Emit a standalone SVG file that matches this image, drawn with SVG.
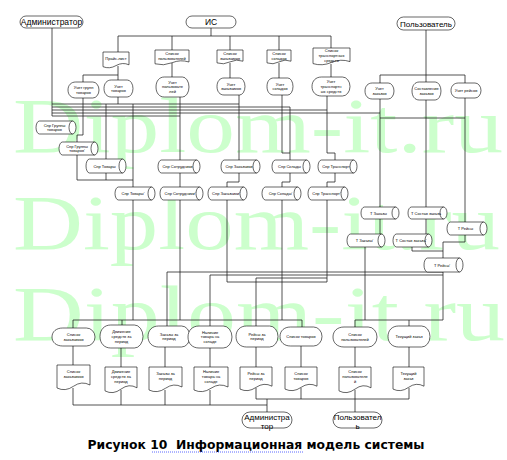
<svg xmlns="http://www.w3.org/2000/svg" width="507" height="460" viewBox="0 0 507 460">
<style>
.s{fill:#fff;stroke:#000;stroke-width:0.6}
.i{fill:none;stroke:#000;stroke-width:0.6}
.c{fill:none;stroke:#1a1a1a;stroke-width:0.75}
.t{font-family:"Liberation Sans",Arial,sans-serif;font-size:4px;text-anchor:middle;fill:#000}
.tt{font-family:"Liberation Sans",Arial,sans-serif;font-size:8.5px;text-anchor:middle;fill:#000}
.w{font-family:"Liberation Serif","Times New Roman",serif;font-size:78px;fill:#ccffcc}
</style>
<rect width="507" height="460" fill="#fff"/>
<g id="watermark">
<text class="w" x="13" y="152" textLength="490" lengthAdjust="spacingAndGlyphs">Diplom-it.ru</text>
<text class="w" x="13" y="249" textLength="487" lengthAdjust="spacingAndGlyphs">Diplom-it.ru</text>
<text class="w" x="13" y="340" textLength="492" lengthAdjust="spacingAndGlyphs">Diplom-it.ru</text>
</g>
<g id="connectors">
<path class="c" d="M52,28V116M211,28V36M118,36H331M118,36V52M172,36V50M230,36V50M279,36V50M331,36V49"/>
<path class="c" d="M118,66V80M118,75H83V82M172,63V77M230,63V78M279,63V78M331,64V77"/>
<path class="c" d="M426,30V82M380,75H465M380,75V83M465,75V83"/>
<path class="c" d="M52,104H239M52,107H290M52,110H327M52,113H380M52,116H180"/>
<path class="c" d="M83,98V135H77V142M77,155V180H133M118,97V104M106,104V159M106,173V180M133,104V320"/>
<path class="c" d="M180,97V320M239,95V160M282,95V153H290V160M290,107V153M327,96V153H335V160"/>
<path class="c" d="M239,173V182H227V187M290,173V182H282V187M335,173V182H327V187"/>
<path class="c" d="M227,200V282H327M327,200V282M282,200V320M256,278H327M256,278V326"/>
<path class="c" d="M73,320H302M73,320V328M122,320V325M302,320V327"/>
<path class="c" d="M380,99V207M426,100V207M465,98V222M380,118H465"/>
<path class="c" d="M380,219V234M426,219V234M465,235V242H443V258M412,247V251H443"/>
<path class="c" d="M365,247V320H443M443,272V320M409,320V326M443,272H167V326M443,275H210V326M355,320H365M355,320V327"/>
<path class="c" d="M73,346V365M121,348V367M165,347V367M210,348V367M256,347V367M301,346V367M355,347V367M409,347V367"/>
<path class="c" d="M73,388V405M121,390V405M165,390V405M210,390V405M73,405H267M267,399V412"/>
<path class="c" d="M256,388V399M301,388V399M409,388V399M256,399H409M355,390V412"/>
</g>
<g id="n-admin"><rect class="s" x="20" y="16" width="63" height="12" rx="6"/><text class="tt" x="51.5" y="25">Администратор</text></g>
<g id="n-is"><rect class="s" x="186" y="16" width="50" height="12" rx="6"/><text class="tt" x="211" y="25">ИС</text></g>
<g id="n-user"><rect class="s" x="397" y="17" width="58" height="13" rx="6.5"/><text class="tt" x="426" y="26.5" style="font-size:8px">Пользователь</text></g>

<g id="d-price"><path class="s" d="M103,52H129V64.8Q122.5,61.9 116,65.6T103,66.7Z"/><text class="t" x="116" y="60.2">Прайс-лист</text></g>
<g id="d-users"><path class="s" d="M155,50H189V62Q180.5,59.3 172,62.75T155,63.8Z"/><text class="t" x="172" y="55.3">Список</text><text class="t" x="172" y="60.1">пользователей</text></g>
<g id="d-cust"><path class="s" d="M217,50H243V61.2Q236.5,58.7 230,61.9T217,62.9Z"/><text class="t" x="230" y="54.9">Список</text><text class="t" x="230" y="59.7">заказчиков</text></g>
<g id="d-stores"><path class="s" d="M267,50H291V61.2Q285,58.7 279,61.9T267,62.9Z"/><text class="t" x="279" y="54.9">Список</text><text class="t" x="279" y="59.7">складов</text></g>
<g id="d-trans"><path class="s" d="M313,48H350V61.6Q340.75,58.5 331.5,62.45T313,63.6Z"/><text class="t" x="331.5" y="52">Список</text><text class="t" x="331.5" y="56.8">транспортных</text><text class="t" x="331.5" y="61.6">средств</text></g>

<g id="p-groups"><path class="s" d="M68,90C68,85.2 71.1,82 75.75,82H92.8A6.2,8 0 0 1 92.8,98H75.75C71.1,98 68,94.8 68,90Z"/><text class="t" x="83.5" y="89">Учет групп</text><text class="t" x="83.5" y="93.8">товаров</text></g>
<g id="p-goods"><path class="s" d="M104,88.5C104,83.4 106.9,80 111.25,80H127.2A5.8,8.5 0 0 1 127.2,97H111.25C106.9,97 104,93.6 104,88.5Z"/><text class="t" x="118.5" y="87.5">Учет</text><text class="t" x="118.5" y="92.3">товаров</text></g>
<g id="p-users"><path class="s" d="M156,87C156,81 159.3,77 164.25,77H182.4A6.6,10 0 0 1 182.4,97H164.25C159.3,97 156,93 156,87Z"/><text class="t" x="172.5" y="83.6">Учет</text><text class="t" x="172.5" y="88.4">пользовате</text><text class="t" x="172.5" y="93.2">лей</text></g>
<g id="p-cust"><path class="s" d="M217,86.5C217,81.4 219.8,78 224,78H239.4A5.6,8.5 0 0 1 239.4,95H224C219.8,95 217,91.6 217,86.5Z"/><text class="t" x="231" y="85.5">Учет</text><text class="t" x="231" y="90.3">заказчиков</text></g>
<g id="p-stores"><path class="s" d="M267,86.5C267,81.4 269.6,78 273.5,78H287.8A5.2,8.5 0 0 1 287.8,95H273.5C269.6,95 267,91.6 267,86.5Z"/><text class="t" x="280" y="85.5">Учет</text><text class="t" x="280" y="90.3">складов</text></g>
<g id="p-trans"><path class="s" d="M312,86.5C312,80.8 315.8,77 321.5,77H342.4A7.6,9.5 0 0 1 342.4,96H321.5C315.8,96 312,92.2 312,86.5Z"/><text class="t" x="331" y="83.1">Учет</text><text class="t" x="331" y="87.9">транспортн</text><text class="t" x="331" y="92.7">ых средств</text></g>
<g id="p-orders"><path class="s" d="M365,91C365,86.2 367.9,83 372.25,83H388.2A5.8,8 0 0 1 388.2,99H372.25C367.9,99 365,95.8 365,91Z"/><text class="t" x="379.5" y="90">Учет</text><text class="t" x="379.5" y="94.8">заказов</text></g>
<g id="p-compose"><path class="s" d="M412,91C412,85.6 414.9,82 419.25,82H435.2A5.8,9 0 0 1 435.2,100H419.25C414.9,100 412,96.4 412,91Z"/><text class="t" x="426.5" y="90">Составление</text><text class="t" x="426.5" y="94.8">заказов</text></g>
<g id="p-trips"><path class="s" d="M451,90.5C451,86 454,83 458.5,83H475A6,7.5 0 0 1 475,98H458.5C454,98 451,95 451,90.5Z"/><text class="t" x="466" y="92">Учет рейсов</text></g>

<g id="c-groups"><path class="s" d="M39.5,121H72.5A3.5,6.5 0 0 1 72.5,134H39.5A3.5,6.5 0 0 1 39.5,121Z"/><path class="i" d="M72.5,121A3.5,6.5 0 0 0 72.5,134"/><text class="t" x="54.5" y="126.5">Спр Группы</text><text class="t" x="54.5" y="131.3">товаров</text></g>
<g id="c-groups2"><path class="s" d="M62.5,142H94.5A3.5,6.5 0 0 1 94.5,155H62.5A3.5,6.5 0 0 1 62.5,142Z"/><path class="i" d="M94.5,142A3.5,6.5 0 0 0 94.5,155"/><text class="t" x="77" y="147.5">Спр Группы</text><text class="t" x="77" y="152.3">товаров'</text></g>
<g id="c-goods"><path class="s" d="M89.5,159H122.5A3.5,7 0 0 1 122.5,173H89.5A3.5,7 0 0 1 89.5,159Z"/><path class="i" d="M122.5,159A3.5,7 0 0 0 122.5,173"/><text class="t" x="104.5" y="167.5">Спр Товары</text></g>
<g id="c-goods2"><path class="s" d="M118.5,187H151.5A3.5,6.5 0 0 1 151.5,200H118.5A3.5,6.5 0 0 1 118.5,187Z"/><path class="i" d="M151.5,187A3.5,6.5 0 0 0 151.5,200"/><text class="t" x="133" y="195">Спр Товары'</text></g>
<g id="c-staff"><path class="s" d="M161.5,160H196.5A3.5,6.5 0 0 1 196.5,173H161.5A3.5,6.5 0 0 1 161.5,160Z"/><path class="i" d="M196.5,160A3.5,6.5 0 0 0 196.5,173"/><text class="t" x="177.5" y="168">Спр Сотрудники</text></g>
<g id="c-staff2"><path class="s" d="M163.5,187H199.5A3.5,6.5 0 0 1 199.5,200H163.5A3.5,6.5 0 0 1 163.5,187Z"/><path class="i" d="M199.5,187A3.5,6.5 0 0 0 199.5,200"/><text class="t" x="180" y="195">Спр Сотрудники'</text></g>
<g id="c-cust"><path class="s" d="M224.5,160H256.5A3.5,6.5 0 0 1 256.5,173H224.5A3.5,6.5 0 0 1 224.5,160Z"/><path class="i" d="M256.5,160A3.5,6.5 0 0 0 256.5,173"/><text class="t" x="239" y="168">Спр Заказчики</text></g>
<g id="c-cust2"><path class="s" d="M211.5,187H243.5A3.5,6.5 0 0 1 243.5,200H211.5A3.5,6.5 0 0 1 211.5,187Z"/><path class="i" d="M243.5,187A3.5,6.5 0 0 0 243.5,200"/><text class="t" x="226" y="195">Спр Заказчики'</text></g>
<g id="c-stores"><path class="s" d="M275.5,160H306.5A3.5,6.5 0 0 1 306.5,173H275.5A3.5,6.5 0 0 1 275.5,160Z"/><path class="i" d="M306.5,160A3.5,6.5 0 0 0 306.5,173"/><text class="t" x="289.5" y="168">Спр Склады</text></g>
<g id="c-stores2"><path class="s" d="M265.5,187H297.5A3.5,6.5 0 0 1 297.5,200H265.5A3.5,6.5 0 0 1 265.5,187Z"/><path class="i" d="M297.5,187A3.5,6.5 0 0 0 297.5,200"/><text class="t" x="280.5" y="195">Спр Склады'</text></g>
<g id="c-trans"><path class="s" d="M321.5,160H353.5A3.5,6.5 0 0 1 353.5,173H321.5A3.5,6.5 0 0 1 321.5,160Z"/><path class="i" d="M353.5,160A3.5,6.5 0 0 0 353.5,173"/><text class="t" x="336" y="168">Спр Транспорт</text></g>
<g id="c-trans2"><path class="s" d="M311.5,187H344.5A3.5,6.5 0 0 1 344.5,200H311.5A3.5,6.5 0 0 1 311.5,187Z"/><path class="i" d="M344.5,187A3.5,6.5 0 0 0 344.5,200"/><text class="t" x="326.5" y="195">Спр Транспорт'</text></g>
<g id="c-orders"><path class="s" d="M364.5,207H395.5A3.5,6 0 0 1 395.5,219H364.5A3.5,6 0 0 1 364.5,207Z"/><path class="i" d="M395.5,207A3.5,6 0 0 0 395.5,219"/><text class="t" x="378.5" y="214.5">Т Заказы</text></g>
<g id="c-items"><path class="s" d="M411.5,207H443.5A3.5,6 0 0 1 443.5,219H411.5A3.5,6 0 0 1 411.5,207Z"/><path class="i" d="M443.5,207A3.5,6 0 0 0 443.5,219"/><text class="t" x="426" y="214.5">Т Состав заказа</text></g>
<g id="c-trips"><path class="s" d="M450.5,222H483.5A3.5,6.5 0 0 1 483.5,235H450.5A3.5,6.5 0 0 1 450.5,222Z"/><path class="i" d="M483.5,222A3.5,6.5 0 0 0 483.5,235"/><text class="t" x="465.5" y="230">Т Рейсы</text></g>
<g id="c-orders2"><path class="s" d="M350.5,234H381.5A3.5,6.5 0 0 1 381.5,247H350.5A3.5,6.5 0 0 1 350.5,234Z"/><path class="i" d="M381.5,234A3.5,6.5 0 0 0 381.5,247"/><text class="t" x="364.5" y="242">Т Заказы'</text></g>
<g id="c-items2"><path class="s" d="M396.5,234H428.5A3.5,6.5 0 0 1 428.5,247H396.5A3.5,6.5 0 0 1 396.5,234Z"/><path class="i" d="M428.5,234A3.5,6.5 0 0 0 428.5,247"/><text class="t" x="411" y="242">Т Состав заказа'</text></g>
<g id="c-trips2"><path class="s" d="M427.5,258H459.5A3.5,7 0 0 1 459.5,272H427.5A3.5,7 0 0 1 427.5,258Z"/><path class="i" d="M459.5,258A3.5,7 0 0 0 459.5,272"/><text class="t" x="442" y="266.5">Т Рейсы'</text></g>

<g id="b-cust"><path class="s" d="M52,337C52,331.6 56.3,328 62.75,328H86.4A8.6,9 0 0 1 86.4,346H62.75C56.3,346 52,342.4 52,337Z"/><text class="t" x="73.5" y="336">Список</text><text class="t" x="73.5" y="340.8">заказчиков</text></g>
<g id="b-money"><path class="s" d="M100,336.5C100,329.6 104.3,325 110.75,325H134.4A8.6,11.5 0 0 1 134.4,348H110.75C104.3,348 100,343.4 100,336.5Z"/><text class="t" x="121.5" y="333.1">Движение</text><text class="t" x="121.5" y="337.9">средств за</text><text class="t" x="121.5" y="342.7">период</text></g>
<g id="b-orders"><path class="s" d="M148,336.5C148,330.2 152.2,326 158.5,326H181.6A8.4,10.5 0 0 1 181.6,347H158.5C152.2,347 148,342.8 148,336.5Z"/><text class="t" x="169" y="335.5">Заказы за</text><text class="t" x="169" y="340.3">период</text></g>
<g id="b-stock"><path class="s" d="M188,337C188,330.4 192.4,326 199,326H223.2A8.8,11 0 0 1 223.2,348H199C192.4,348 188,343.6 188,337Z"/><text class="t" x="210" y="333.6">Наличие</text><text class="t" x="210" y="338.4">товара на</text><text class="t" x="210" y="343.2">складе</text></g>
<g id="b-trips"><path class="s" d="M236,336.5C236,330.2 240.2,326 246.5,326H269.6A8.4,10.5 0 0 1 269.6,347H246.5C240.2,347 236,342.8 236,336.5Z"/><text class="t" x="257" y="335.5">Рейсы за</text><text class="t" x="257" y="340.3">период</text></g>
<g id="b-goods"><path class="s" d="M280,336.5C280,330.8 284.2,327 290.5,327H313.6A8.4,9.5 0 0 1 313.6,346H290.5C284.2,346 280,342.2 280,336.5Z"/><text class="t" x="301" y="338">Список товаров</text></g>
<g id="b-users"><path class="s" d="M333,337C333,331 337.4,327 344,327H368.2A8.8,10 0 0 1 368.2,347H344C337.4,347 333,343 333,337Z"/><text class="t" x="355" y="336">Список</text><text class="t" x="355" y="340.8">пользователей</text></g>
<g id="b-current"><path class="s" d="M388,336.5C388,330.2 392.2,326 398.5,326H421.6A8.4,10.5 0 0 1 421.6,347H398.5C392.2,347 388,342.8 388,336.5Z"/><text class="t" x="409" y="338">Текущий заказ</text></g>

<g id="r-cust"><path class="s" d="M57,365H90V385Q81.75,380.5 73.5,386.25T57,388Z"/><text class="t" x="73.5" y="373">Список</text><text class="t" x="73.5" y="377.8">заказчиков</text></g>
<g id="r-money"><path class="s" d="M105,367H137V387.8Q129,383.1 121,389.1T105,390.9Z"/><text class="t" x="121" y="373">Движение</text><text class="t" x="121" y="377.8">средств за</text><text class="t" x="121" y="382.6">период</text></g>
<g id="r-orders"><path class="s" d="M149,367H182V387Q173.75,382.5 165.5,388.25T149,390Z"/><text class="t" x="165.5" y="375">Заказы за</text><text class="t" x="165.5" y="379.8">период</text></g>
<g id="r-stock"><path class="s" d="M194,367H228V387Q219.5,382.5 211,388.25T194,390Z"/><text class="t" x="211" y="373">Наличие</text><text class="t" x="211" y="377.8">товара на</text><text class="t" x="211" y="382.6">складе</text></g>
<g id="r-trips"><path class="s" d="M240,367H272V386.2Q264,381.9 256,387.4T240,389.1Z"/><text class="t" x="256" y="375">Рейсы за</text><text class="t" x="256" y="379.8">период</text></g>
<g id="r-goods"><path class="s" d="M285,367H317V386.2Q309,381.9 301,387.4T285,389.1Z"/><text class="t" x="301" y="375">Список</text><text class="t" x="301" y="379.8">товаров</text></g>
<g id="r-users"><path class="s" d="M339,367H371V387.8Q363,383.1 355,389.1T339,390.9Z"/><text class="t" x="355" y="373">Список</text><text class="t" x="355" y="377.8">пользователе</text><text class="t" x="355" y="382.6">й</text></g>
<g id="r-current"><path class="s" d="M393,367H424V386.2Q416.25,381.9 408.5,387.4T393,389.1Z"/><text class="t" x="408.5" y="375">Текущий</text><text class="t" x="408.5" y="379.8">заказ</text></g>

<g id="n-admin2"><rect class="s" x="242" y="412" width="50" height="16" rx="8"/><text class="tt" x="267" y="419.5" style="font-size:8px">Администра</text><text class="tt" x="267" y="428.9" style="font-size:8px">тор</text></g>
<g id="n-user2"><rect class="s" x="333" y="412" width="49" height="16" rx="8"/><text class="tt" x="357.5" y="419.5" style="font-size:8px">Пользовател</text><text class="tt" x="357.5" y="428.9" style="font-size:8px">ь</text></g>

<g id="caption">
<text x="256" y="449" xml:space="preserve" style="font-family:'DejaVu Sans',Verdana,sans-serif;font-size:11.5px;font-weight:bold;text-anchor:middle" textLength="337" lengthAdjust="spacingAndGlyphs">Рисунок 10  Информационная модель системы</text>
<line x1="152" y1="452" x2="303" y2="452" stroke="#3344ff" stroke-width="0.8" stroke-dasharray="1,1"/>
</g>
</svg>
